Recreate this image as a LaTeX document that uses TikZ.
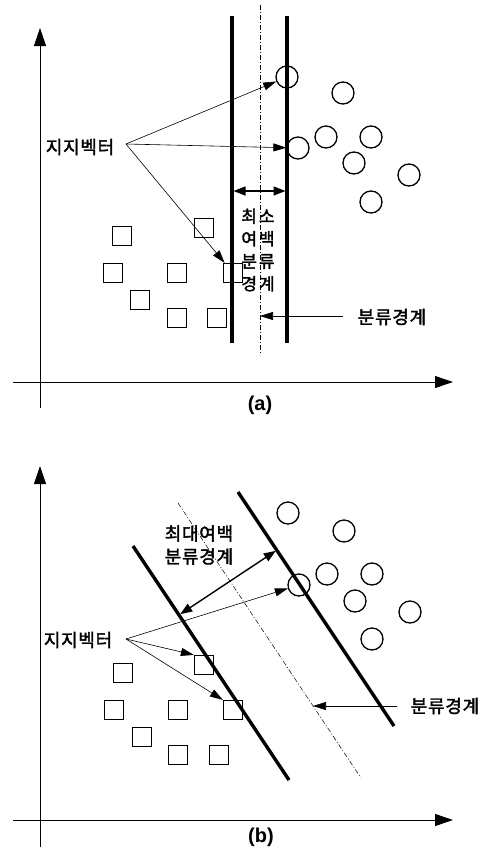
\documentclass[tikz,border=0pt]{standalone}
\usepackage{fontspec}
\newfontfamily\kr[LetterSpace=4,FakeBold=2]{Noto Sans CJK KR}
\newfontfamily\hv{Liberation Sans}
\usetikzlibrary{arrows.meta}

\begin{document}
\begin{tikzpicture}[x=1pt, y=-1pt,
      ax/.style={-{Triangle[length=18pt,width=12pt]}, line width=0.9pt},
      bnd/.style={line width=3.4pt},
      mid/.style={line width=0.5pt, dash pattern=on 5pt off 2pt on 1pt off 2pt},
      circ/.style={draw, circle, minimum size=22pt, inner sep=0pt, line width=1.3pt},
      sqr/.style={draw, minimum size=19pt, inner sep=0pt, line width=1.2pt},
      arr/.style={-{Triangle[length=13pt,width=8pt]}, line width=0.6pt},
      marg/.style={{Triangle[length=12pt,width=9pt]}-{Triangle[length=12pt,width=9pt]},
                   line width=1.4pt, shorten <=1.5pt, shorten >=1.5pt},
      lbl/.style={font=\kr\fontsize{18}{23}\selectfont, inner sep=0pt},
      panel/.style={font=\hv\bfseries\fontsize{20}{22}\selectfont, inner sep=0pt}]

    \useasboundingbox (0,0) rectangle (487,852);

    % ---- (a) minimum margin ----
    \coordinate (oa1) at (40,408);  \coordinate (ya) at (40,28);
    \coordinate (oa2) at (13,382);  \coordinate (xa) at (453,382);
    \draw[ax] (oa1) -- (ya);
    \draw[ax] (oa2) -- (xa);

    \coordinate (la1) at (232,16);  \coordinate (la2) at (232,343);
    \coordinate (ra1) at (287,16);  \coordinate (ra2) at (287,343);
    \coordinate (ma1) at (260,5);   \coordinate (ma2) at (260,355);
    \draw[bnd] (la1) -- (la2);
    \draw[bnd] (ra1) -- (ra2);
    \draw[mid] (ma1) -- (ma2);

    \foreach \x/\y [count=\i] in {287/77, 343/93, 326/137, 371/137,
                                  298/148, 354/163, 409/175, 371/202}
      \node[circ] (ca\i) at (\x,\y) {};
    \foreach \x/\y [count=\i] in {204/228, 122/236, 113/273, 177/273,
                                  233/273, 140/300, 177/318, 217/318}
      \node[sqr] (sa\i) at (\x,\y) {};

    \node[lbl] (sva) at (80,147) {지지벡터};
    \coordinate (sva-o) at (126,144);
    \draw[arr] (sva-o) -- (ca1);
    \draw[arr] (sva-o) -- (ca5);
    \draw[arr] (sva-o) -- (sa5);

    \coordinate (wa1) at (232,191);  \coordinate (wa2) at (287,191);
    \draw[marg] (wa1) -- (wa2);
    \node[lbl, font=\kr\fontsize{17}{22.5}\selectfont, align=center] (mga) at (258,250)
      {최\hspace{2pt}소\\여\hspace{2pt}백\\분\hspace{2pt}류\\경\hspace{2pt}계};

    \node[lbl] (bda) at (392,317) {분류경계};
    \coordinate (bda-o) at (343,316);
    \coordinate (bda-t) at (260,316);
    \draw[arr] (bda-o) -- (bda-t);

    \node[panel] (pa) at (260,405) {(a)};

    % ---- (b) maximum margin ----
    \coordinate (ob1) at (40,847);  \coordinate (yb) at (40,466);
    \coordinate (ob2) at (13,820);  \coordinate (xb) at (453,820);
    \draw[ax] (ob1) -- (yb);
    \draw[ax] (ob2) -- (xb);

    \coordinate (lb1) at (133,546);  \coordinate (lb2) at (289,780);
    \coordinate (rb1) at (238,492);  \coordinate (rb2) at (394,726);
    \coordinate (mb1) at (178,503);  \coordinate (mb2) at (361,778);
    \draw[bnd] (lb1) -- (lb2);
    \draw[bnd] (rb1) -- (rb2);
    \draw[mid] (mb1) -- (mb2);

    \foreach \x/\y [count=\i] in {288/513, 344/531, 327/574, 372/574,
                                  299/585, 355/601, 410/612, 372/639}
      \node[circ] (cb\i) at (\x,\y) {};
    \foreach \x/\y [count=\i] in {204/665, 123/673, 114/710, 178/710,
                                  233/710, 142/737, 178/755, 219/755}
      \node[sqr] (sb\i) at (\x,\y) {};

    \node[lbl] (svb) at (78,640) {지지벡터};
    \coordinate (svb-o) at (126,639);
    \draw[arr] (svb-o) -- (cb5);
    \draw[arr] (svb-o) -- (sb1.north west);
    \draw[arr] (svb-o) -- (sb5.north west);

    \coordinate (wb1) at (179,615);  \coordinate (wb2) at (277,550);
    \draw[marg] (wb1) -- (wb2);
    \node[lbl, align=center] (mgb) at (199,545) {최대여백\\분류경계};

    \node[lbl] (bdb) at (445,706) {분류경계};
    \coordinate (bdb-o) at (397,706);
    \coordinate (bdb-t) at (313,706);
    \draw[arr] (bdb-o) -- (bdb-t);

    \node[panel] (pb) at (261,837) {(b)};

\end{tikzpicture}
\end{document}
